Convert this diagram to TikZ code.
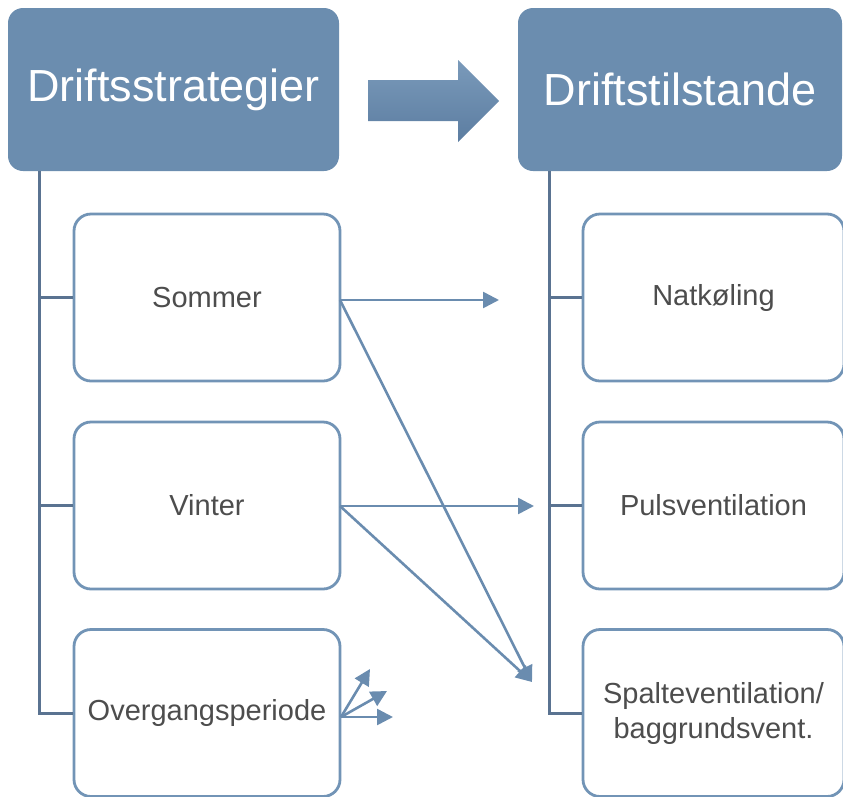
\documentclass[tikz,border=0pt]{standalone}
\usepackage{fontspec}
\setmainfont{Liberation Sans}
\usetikzlibrary{arrows.meta}

\definecolor{headfill}{HTML}{6B8DAF}
\definecolor{boxline}{HTML}{7294B6}
\definecolor{treeline}{HTML}{5A7391}
\definecolor{linkline}{HTML}{6A8CAF}
\definecolor{bodytext}{HTML}{4D4D4D}
\definecolor{arrowtop}{HTML}{7A9ABA}
\definecolor{arrowbot}{HTML}{5C7DA1}

\tikzset{
  headbox/.style={rectangle, rounded corners=15pt, fill=headfill, draw=none,
    text=white, font=\fontsize{45}{54}\selectfont,
    minimum height=163pt, inner sep=0pt},
  childbox/.style={rectangle, rounded corners=17pt, fill=white, draw=boxline,
    line width=2.8pt, text=bodytext, align=center,
    font=\fontsize{29}{35}\selectfont, inner sep=0pt},
  leftchild/.style={childbox, minimum width=266pt, minimum height=167pt},
  rightchild/.style={childbox, minimum width=261pt, minimum height=167pt},
  tree/.style={draw=treeline, line width=3pt},
  link/.style={draw=linkline, line width=2.6pt,
    -{Triangle[length=16pt,width=16pt]}}
}

\begin{document}
\begin{tikzpicture}[x=1pt, y=-1pt]
  \useasboundingbox (0,0) rectangle (843,796);
  \clip (0,0) rectangle (843,796);

  % headers
  \node[headbox, minimum width=331pt] (hl) at (173.5,89.5) {Driftsstrategier};
  \node[headbox, minimum width=324pt] (hr) at (680,89.5) {Driftstilstande};

  % block arrow between the headers
  \shade[top color=arrowtop, bottom color=arrowbot]
    (368,80) -- (458,80) -- (458,60) -- (499,101) -- (458,142)
    -- (458,121) -- (368,121) -- cycle;

  % strategies
  \node[leftchild] (s1) at (207,297.5) {Sommer};
  \node[leftchild] (s2) at (207,505.5) {Vinter};
  \node[leftchild] (s3) at (207,713) {Overgangsperiode};

  % operating states
  \node[rightchild] (r1) at (713.5,297.5) {Natkøling};
  \node[rightchild] (r2) at (713.5,505.5) {Pulsventilation};
  \node[rightchild] (r3) at (713.5,713) {Spalteventilation/\\baggrundsvent.};

  % hierarchy lines
  \coordinate (lroot) at ([xshift=32pt]hl.south west);
  \coordinate (rroot) at ([xshift=32pt]hr.south west);
  \draw[tree] (lroot) |- (s1.west);
  \draw[tree] (lroot) |- (s2.west);
  \draw[tree] (lroot) |- (s3.west);
  \draw[tree] (rroot) |- (r1.west);
  \draw[tree] (rroot) |- (r2.west);
  \draw[tree] (rroot) |- (r3.west);

  % mapping arrows
  \coordinate (a1) at (340,300);
  \coordinate (a2) at (340,506);
  \coordinate (a3) at (341,717);
  \coordinate (t1) at (499,300);
  \coordinate (t2) at (534,506);
  \coordinate (t3) at (532,682);
  \coordinate (u1) at (370,669);
  \coordinate (u2) at (387,691);
  \coordinate (u3) at (393,717);

  \draw[link] (a1) -- (t1);
  \draw[link] (a1) -- (t3);
  \draw[link] (a2) -- (t2);
  \draw[link] (a2) -- (t3);
  \draw[link] (a3) -- (u1);
  \draw[link] (a3) -- (u2);
  \draw[link] (a3) -- (u3);
\end{tikzpicture}
\end{document}
